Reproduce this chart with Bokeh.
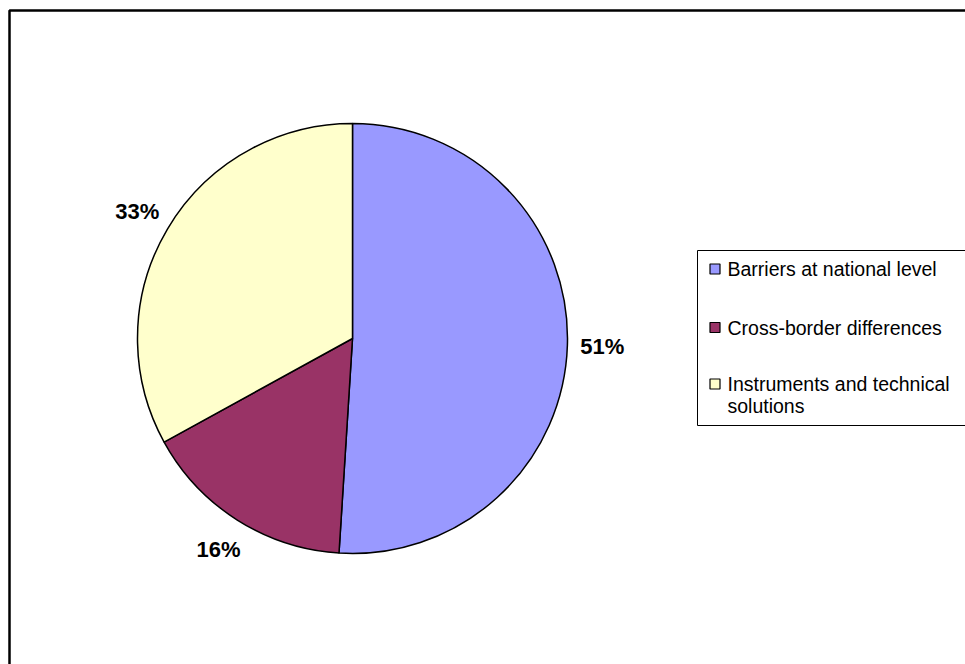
import math
from bokeh.plotting import figure
from bokeh.models import Range1d, ColumnDataSource
from bokeh.core.properties import value
from bokeh.embed import file_html
from bokeh.resources import INLINE

# ---- data ----
categories = ["Barriers at national level", "Cross-border differences", "Instruments and technical\nsolutions"]
shares = [51, 16, 33]
colors = ["#9999FF", "#993366", "#FFFFCC"]

W, H = 965, 664
FONT = value("Liberation Sans")

p = figure(width=W, height=H, output_backend="svg", toolbar_location=None,
           x_range=Range1d(0, W), y_range=Range1d(0, H), min_border=0)
p.axis.visible = False
p.grid.visible = False
p.outline_line_color = None
p.background_fill_color = "white"
p.border_fill_color = "white"

def sy(y):  # screen y -> data y
    return H - y

# outer chart frame (right/bottom edges outside window)
p.quad(left=[9], right=[W + 40], top=[sy(10)], bottom=[-40],
       fill_color=None, line_color="black", line_width=2.5)

# ---- pie ----
cx, cy, R = 352, sy(338), 215
total = float(sum(shares))
starts, ends, mids = [], [], []
cum = 0.0
for v in shares:
    a0 = math.pi / 2 - 2 * math.pi * cum / total
    cum += v
    a1 = math.pi / 2 - 2 * math.pi * cum / total
    starts.append(a0)
    ends.append(a1)
    mids.append((a0 + a1) / 2)

src = ColumnDataSource(dict(start=starts, end=ends, color=colors))
p.wedge(x=cx, y=cy, radius=R, start_angle="start", end_angle="end",
        direction="clock", fill_color="color", line_color="black",
        line_width=1.5, source=src)

# percentage labels
LR = 250
lx = [cx + LR * math.cos(m) for m in mids]
ly = [cy + LR * math.sin(m) for m in mids]
p.text(x=lx, y=ly, text=[f"{v}%" for v in shares], text_font=FONT,
       text_font_size="22px", text_font_style="bold", text_color="black",
       text_align="center", text_baseline="middle")

# ---- legend ----
p.quad(left=[697], right=[W + 40], top=[sy(250)], bottom=[sy(425)],
       fill_color="white", line_color="black", line_width=1)
row_y = [268.5, 327, 383.5]
p.rect(x=[714.5] * 3, y=[sy(y) for y in row_y], width=10, height=10,
       fill_color=colors, line_color="black", line_width=1.2)
tx, ty, tt = [], [], []
for lab, y in zip(categories, row_y):
    for k, line in enumerate(lab.split("\n")):
        tx.append(727)
        ty.append(sy(y + k * 22))
        tt.append(line)
p.text(x=tx, y=ty, text=tt, text_font=FONT, text_font_size="19.5px",
       text_color="black", text_align="left", text_baseline="middle")

open("out.html", "w").write(file_html(p, INLINE))
